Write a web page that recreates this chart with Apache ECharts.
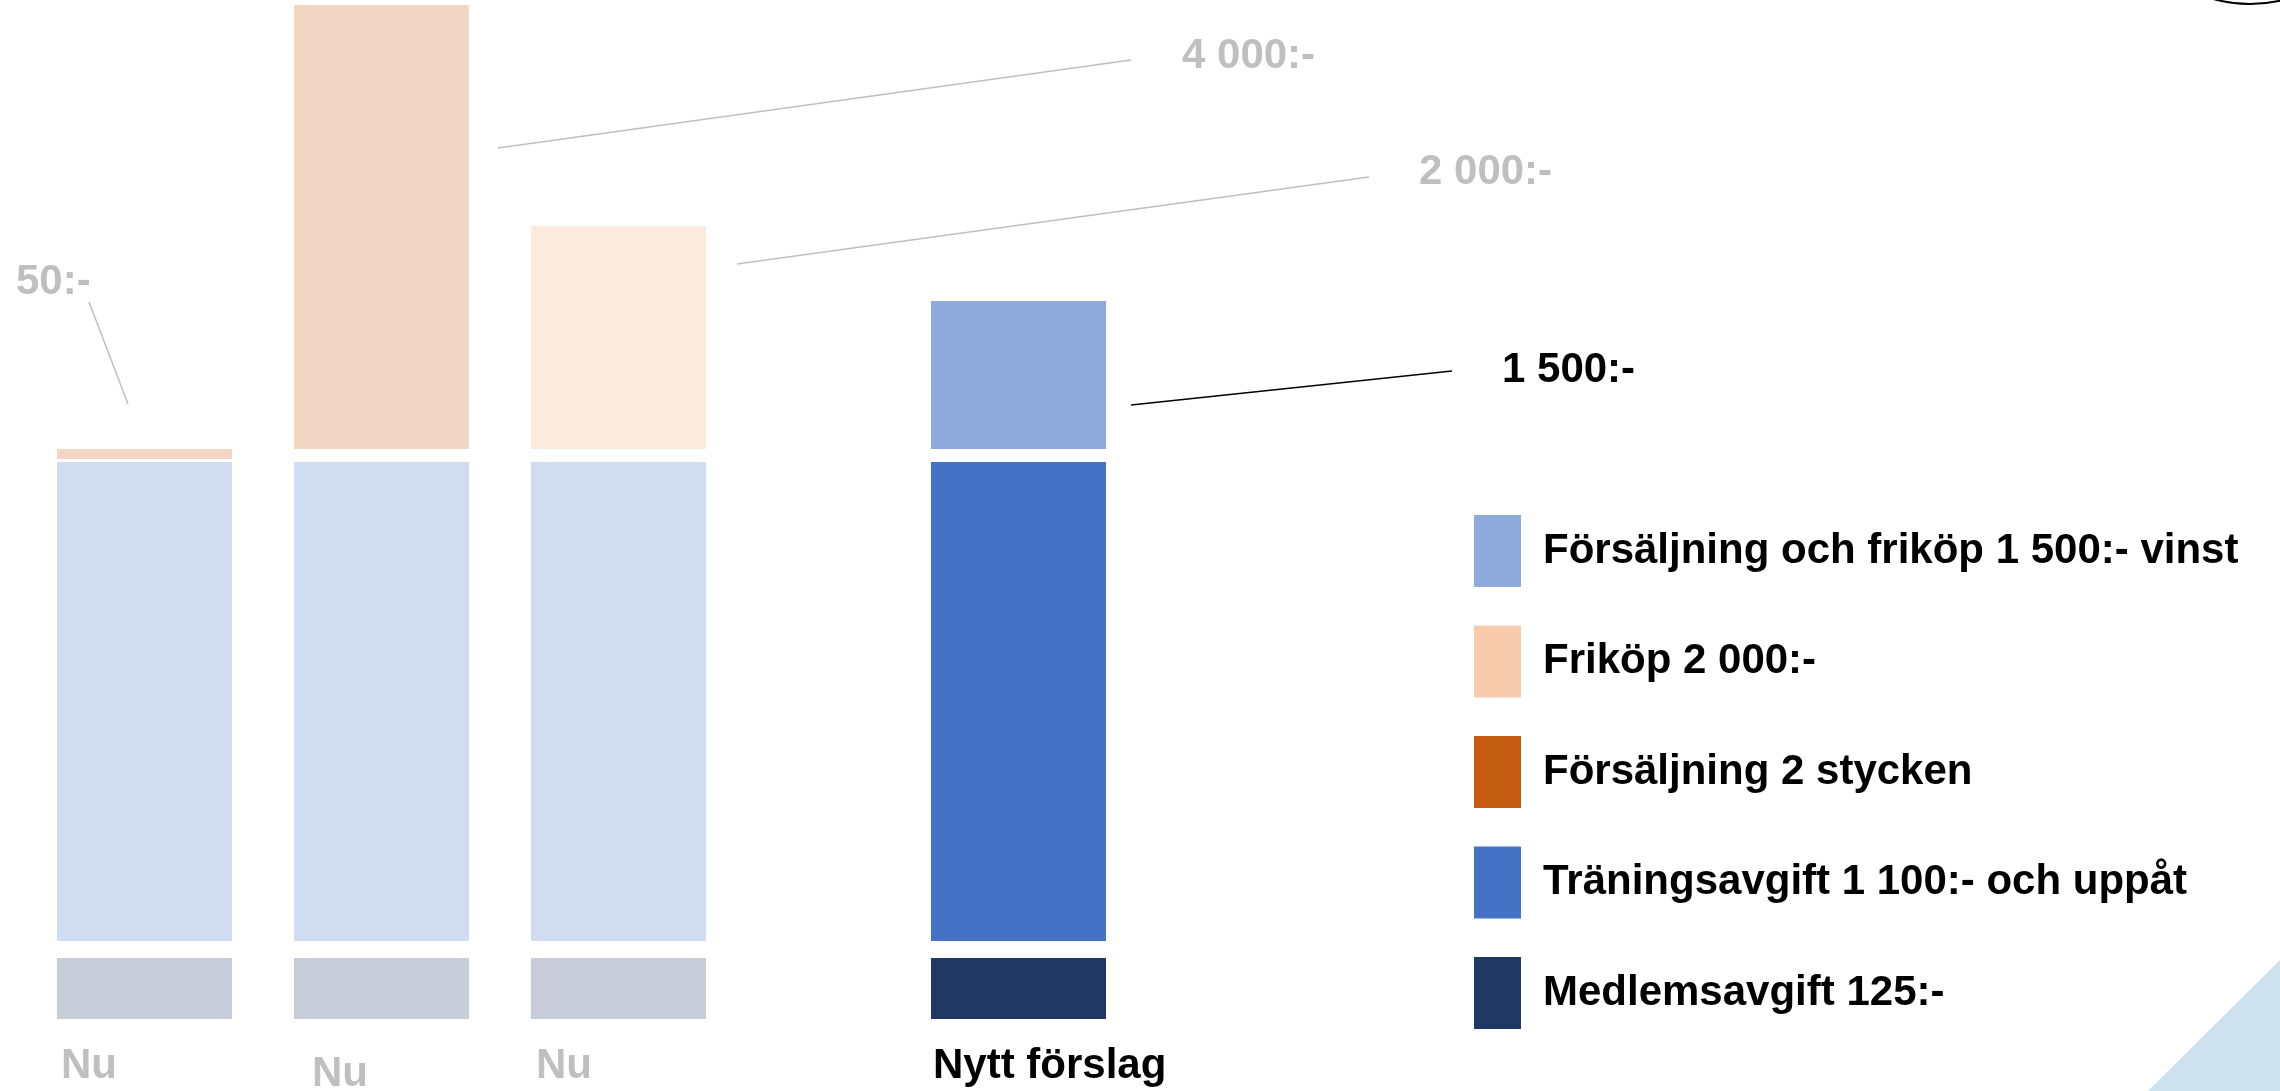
<!DOCTYPE html>
<html>
<head>
<meta charset="utf-8">
<script src="https://cdn.jsdelivr.net/npm/echarts@6/dist/echarts.min.js"></script>
<style>
html, body { margin: 0; padding: 0; background: #fff; }
#chart { width: 2280px; height: 1091px; }
</style>
</head>
<body>
<div id="chart"></div>
<script>
// kategorier
var nuCategories = ['Nu', 'Nu', 'Nu'];
var nyCategories = ['Nytt förslag'];

// segmenthöjder lästa ur bilden (samma enhet överallt)
var medlemsavgiftNu = [61, 61, 61];
var medlemsavgiftNy = [61];
var mellanrumLagNu = [17, 17, 17];
var mellanrumLagNy = [17];
var traningsavgiftNu = [479, 479, 479];
var traningsavgiftNy = [479];
var mellanrumHogNu = [3, 13, 13];
var mellanrumHogNy = [13];
var forsaljning2Nu = [10, 444, 0];
var frikopNu = [0, 0, 223];
var forsaljningFrikopNy = [148];

// belopp vid toppsegmenten
var beloppNu = ['50:-', '4 000:-', '2 000:-'];
var beloppNy = ['1 500:-'];

var seriesNames = {
    forsFri: 'Försäljning och friköp 1 500:- vinst',
    frikop: 'Friköp 2 000:-',
    fors2: 'Försäljning 2 stycken',
    traning: 'Träningsavgift 1 100:- och uppåt',
    medlem: 'Medlemsavgift 125:-'
};

var colors = {
    forsFri: '#8faadc',
    frikop: '#f8cbad',
    fors2: '#c55a11',
    traning: '#4472c4',
    medlem: '#203864'
};

var FONT = "'Liberation Sans', Arial, sans-serif";
var GREY = '#bfbfbf';

// placering av texter relativt segmenten
var nuLabelPos = [[4, 108], [18, 116.5], [5, 108]];
var nyLabelPos = [[2, 108]];
var beloppPosNu = [[-41, -166.5], [888, 51], [888, -53.5]];
var beloppPosNy = [[571, 69]];
// hänvisningslinjer: start/slut relativt stapelns topp (mitten)
var leaderNu = [
    { from: [-16.5, -45], to: [-55.5, -147] },
    { from: [116.5, 143], to: [749.5, 55] },
    { from: [118.5, 38], to: [750.5, -49] }
];
var leaderNy = [{ from: [112.5, 104], to: [433.5, 70] }];

var textBase = { fontFamily: FONT, fontWeight: 'bold', fontSize: 42, verticalAlign: 'middle', align: 'left' };

// "Nu"-staplarna är blekta versioner av seriefärgen (blandad mot vitt)
function pale(hex, k) {
    var n = parseInt(hex.slice(1), 16);
    var c = [(n >> 16) & 255, (n >> 8) & 255, n & 255].map(function (x) {
        return Math.round(255 - k * (255 - x));
    });
    return 'rgb(' + c.join(',') + ')';
}

function faded(values, color, k, extra) {
    return values.map(function (v, i) {
        var item = { value: v, itemStyle: { color: pale(color, Array.isArray(k) ? k[i] : k) } };
        if (extra) {
            var lab = extra(i, v);
            if (lab) item.label = lab;
        }
        return item;
    });
}

function spacer(data, axis, stack) {
    return {
        type: 'bar', stack: stack, xAxisIndex: axis, yAxisIndex: axis,
        data: data, barWidth: 175, silent: true,
        itemStyle: { color: 'transparent' }
    };
}

var chart = echarts.init(document.getElementById('chart'));

var series = [
    // Nytt förslag
    {
        name: seriesNames.medlem, type: 'bar', stack: 'ny', xAxisIndex: 1, yAxisIndex: 1, barWidth: 175,
        itemStyle: { color: colors.medlem },
        data: medlemsavgiftNy.map(function (v, i) {
            return {
                value: v,
                label: Object.assign({ show: true, position: nyLabelPos[i], color: '#000', formatter: nyCategories[i] }, textBase)
            };
        })
    },
    spacer(mellanrumLagNy, 1, 'ny'),
    {
        name: seriesNames.traning, type: 'bar', stack: 'ny', xAxisIndex: 1, yAxisIndex: 1, barWidth: 175,
        itemStyle: { color: colors.traning },
        data: traningsavgiftNy
    },
    spacer(mellanrumHogNy, 1, 'ny'),
    {
        name: seriesNames.forsFri, type: 'bar', stack: 'ny', xAxisIndex: 1, yAxisIndex: 1, barWidth: 175,
        itemStyle: { color: colors.forsFri },
        data: forsaljningFrikopNy.map(function (v, i) {
            return {
                value: v,
                label: Object.assign({ show: true, position: beloppPosNy[i], color: '#000', formatter: beloppNy[i] }, textBase)
            };
        })
    },
    // Nu
    {
        name: seriesNames.medlem, type: 'bar', stack: 'nu', xAxisIndex: 0, yAxisIndex: 0, barWidth: 175,
        itemStyle: { color: colors.medlem },
        data: faded(medlemsavgiftNu, colors.medlem, 0.25, function (i) {
            return Object.assign({ show: true, position: nuLabelPos[i], color: GREY, formatter: nuCategories[i] }, textBase);
        })
    },
    spacer(mellanrumLagNu, 0, 'nu'),
    {
        name: seriesNames.traning, type: 'bar', stack: 'nu', xAxisIndex: 0, yAxisIndex: 0, barWidth: 175,
        itemStyle: { color: colors.traning },
        data: faded(traningsavgiftNu, colors.traning, 0.25)
    },
    spacer(mellanrumHogNu, 0, 'nu'),
    {
        name: seriesNames.fors2, type: 'bar', stack: 'nu', xAxisIndex: 0, yAxisIndex: 0, barWidth: 175,
        itemStyle: { color: colors.fors2 },
        data: faded(forsaljning2Nu, colors.fors2, 0.25, function (i, v) {
            if (!v) return null;
            return Object.assign({ show: true, position: beloppPosNu[i], color: GREY, formatter: beloppNu[i] }, textBase);
        })
    },
    {
        name: seriesNames.frikop, type: 'bar', stack: 'nu', xAxisIndex: 0, yAxisIndex: 0, barWidth: 175,
        itemStyle: { color: colors.frikop },
        data: faded(frikopNu, colors.frikop, 0.4, function (i, v) {
            if (!v) return null;
            return Object.assign({ show: true, position: beloppPosNu[i], color: GREY, formatter: beloppNu[i] }, textBase);
        })
    }
];

var hiddenX = function (data, idx) {
    return {
        type: 'category', gridIndex: idx, data: data,
        axisLine: { show: false }, axisTick: { show: false }, axisLabel: { show: false }, splitLine: { show: false }
    };
};
var hiddenY = function (idx) {
    return { type: 'value', gridIndex: idx, min: 0, max: 1014, show: false, splitLine: { show: false } };
};

chart.setOption({
    animation: false,
    backgroundColor: '#ffffff',
    grid: [
        { left: 26, width: 711, top: 5, height: 1014 },
        { left: 900, width: 237, top: 5, height: 1014 }
    ],
    xAxis: [hiddenX(nuCategories, 0), hiddenX(nyCategories, 1)],
    yAxis: [hiddenY(0), hiddenY(1)],
    legend: {
        orient: 'vertical',
        left: 1474,
        top: 515,
        padding: 0,
        itemWidth: 47,
        itemHeight: 72,
        itemGap: 38.5,
        icon: 'rect',
        selectedMode: false,
        data: [seriesNames.forsFri, seriesNames.frikop, seriesNames.fors2, seriesNames.traning, seriesNames.medlem],
        textStyle: { fontFamily: FONT, fontWeight: 'bold', fontSize: 42, color: '#000', padding: [0, 0, 0, 17] }
    },
    series: series
});

// hänvisningslinjer från staplarna till beloppen
function stackTop(parts, i) {
    return parts.reduce(function (s, arr) { return s + arr[i]; }, 0);
}
var graphics = [];
var nuTopParts = [medlemsavgiftNu, mellanrumLagNu, traningsavgiftNu, mellanrumHogNu, forsaljning2Nu, frikopNu];
leaderNu.forEach(function (l, i) {
    var p = chart.convertToPixel({ gridIndex: 0 }, [i, stackTop(nuTopParts, i)]);
    graphics.push({
        type: 'line', silent: true,
        shape: { x1: p[0] + l.from[0], y1: p[1] + l.from[1], x2: p[0] + l.to[0], y2: p[1] + l.to[1] },
        style: { stroke: GREY, lineWidth: 1.5 }
    });
});
var nyTopParts = [medlemsavgiftNy, mellanrumLagNy, traningsavgiftNy, mellanrumHogNy, forsaljningFrikopNy];
leaderNy.forEach(function (l, i) {
    var p = chart.convertToPixel({ gridIndex: 1 }, [i, stackTop(nyTopParts, i)]);
    graphics.push({
        type: 'line', silent: true,
        shape: { x1: p[0] + l.from[0], y1: p[1] + l.from[1], x2: p[0] + l.to[0], y2: p[1] + l.to[1] },
        style: { stroke: '#000', lineWidth: 1.5 }
    });
});
// dekor från bilden
graphics.push({
    type: 'polygon', silent: true, z: -1,
    shape: { points: [[2148, 1091], [2280, 960], [2280, 1091]] },
    style: { fill: '#cde1ef' }
});
graphics.push({
    type: 'circle', silent: true,
    shape: { cx: 2250, cy: -134, r: 138 },
    style: { fill: 'none', stroke: '#000', lineWidth: 2 }
});

chart.setOption({ graphic: graphics });
</script>
</body>
</html>
